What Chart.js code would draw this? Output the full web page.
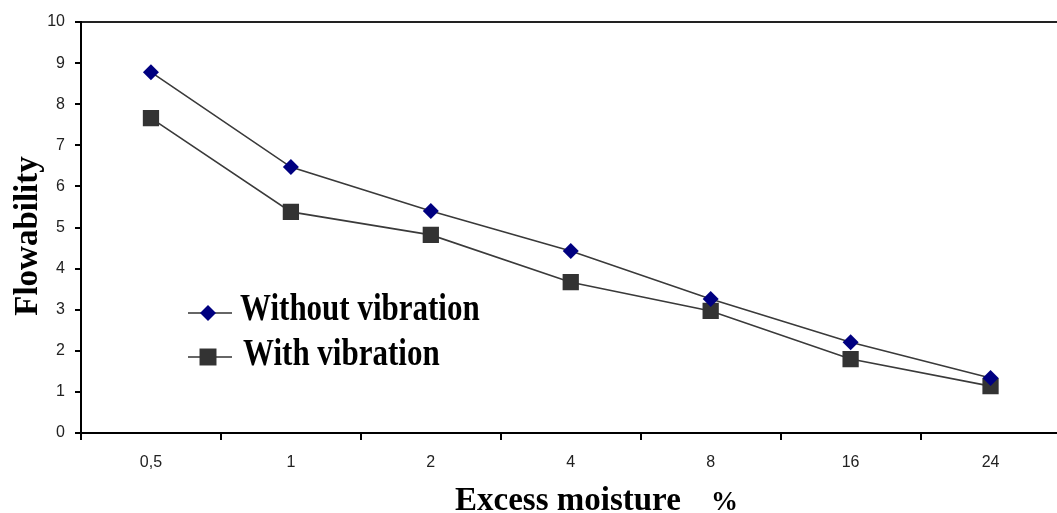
<!DOCTYPE html>
<html>
<head>
<meta charset="utf-8">
<script src="https://cdn.jsdelivr.net/npm/chart.js@4.4.1/dist/chart.umd.min.js"></script>
<style>
  html, body { margin: 0; padding: 0; background: #fff; overflow: hidden; }
  #wrap { position: relative; width: 1072px; height: 513px; }
</style>
</head>
<body>
<div id="wrap"><canvas id="mainChart" width="1072" height="513"></canvas></div>
<script>
// ======================================================
// DATA
// ======================================================
const moistureLabels = ['0,5', '1', '2', '4', '8', '16', '24'];
const withoutVibration = [8.78, 6.47, 5.40, 4.43, 3.26, 2.21, 1.34];
const withVibration = [7.66, 5.38, 4.82, 3.67, 2.97, 1.80, 1.14];
const legendNames = ['Without vibration', 'With vibration'];
const yTitle = 'Flowability';
const xTitle = 'Excess moisture';
const xUnit = '%';

const serif = '"Liberation Serif", "Times New Roman", serif';
const sans = '"Liberation Sans", Arial, sans-serif';

// titles + in-plot legend, drawn on top of the chart
const decorPlugin = {
  id: 'decor',
  afterDraw(chart) {
    const ctx = chart.ctx;
    ctx.save();
    ctx.fillStyle = '#000';

    // y title
    ctx.font = 'bold 33px ' + serif;
    ctx.textAlign = 'center';
    ctx.textBaseline = 'middle';
    ctx.save();
    ctx.translate(28, 236);
    ctx.rotate(-Math.PI / 2);
    ctx.fillText(yTitle, 0, 0);
    ctx.restore();

    // x title
    ctx.textAlign = 'left';
    ctx.textBaseline = 'alphabetic';
    ctx.fillText(xTitle, 455, 510);
    ctx.font = 'bold 27px ' + serif;
    ctx.fillText(xUnit, 711, 510);

    // legend
    const items = [
      { y: 313, base: 320, tx: 240, style: 'rectRot', radius: 8, color: '#000080' },
      { y: 357, base: 365, tx: 243, style: 'rect', radius: 12, color: '#333333' }
    ];
    items.forEach((it, i) => {
      ctx.strokeStyle = '#333';
      ctx.lineWidth = 1.6;
      ctx.beginPath();
      ctx.moveTo(188, it.y);
      ctx.lineTo(232, it.y);
      ctx.stroke();
      ctx.fillStyle = it.color;
      Chart.helpers.drawPoint(ctx, { pointStyle: it.style, radius: it.radius, borderWidth: 0 }, 208, it.y);
      ctx.fillStyle = '#000';
      ctx.font = 'bold 31px ' + serif;
      ctx.save();
      ctx.translate(it.tx, it.base);
      ctx.scale(1, 1.2);
      ctx.fillText(legendNames[i], 0, 0);
      ctx.restore();
    });
    ctx.restore();
  }
};

const ctx = document.getElementById('mainChart').getContext('2d');
new Chart(ctx, {
  type: 'line',
  data: {
    labels: moistureLabels,
    datasets: [
      {
        label: legendNames[0],
        data: withoutVibration,
        borderColor: '#3a3a3a',
        borderWidth: 1.6,
        pointStyle: 'rectRot',
        pointRadius: 8,
        pointBackgroundColor: '#000080',
        pointBorderWidth: 0,
        tension: 0
      },
      {
        label: legendNames[1],
        data: withVibration,
        borderColor: '#3a3a3a',
        borderWidth: 1.6,
        pointStyle: 'rect',
        pointRadius: 11.5,
        pointBackgroundColor: '#333333',
        pointBorderWidth: 0,
        tension: 0
      }
    ]
  },
  options: {
    responsive: false,
    animation: false,
    layout: { padding: { top: 22, right: 4, bottom: 0, left: 0 } },
    plugins: {
      legend: { display: false },
      tooltip: { enabled: false }
    },
    scales: {
      x: {
        offset: true,
        afterFit(scale) { scale.height = 80; },
        border: { display: true, color: '#000', width: 2 },
        grid: { offset: true, drawOnChartArea: false, drawTicks: true, tickLength: 7, color: '#000', lineWidth: 2 },
        ticks: { color: '#222', font: { family: sans, size: 16 }, padding: 13 }
      },
      y: {
        min: 0,
        max: 10,
        afterFit(scale) { scale.width = 81; },
        border: { display: true, color: '#000', width: 2 },
        grid: {
          drawTicks: true,
          tickLength: 6,
          tickColor: '#000',
          lineWidth: 2,
          color: c => (c.tick && c.tick.value === 10 ? '#222' : 'rgba(0,0,0,0)')
        },
        ticks: { stepSize: 1, color: '#222', font: { family: sans, size: 16 }, padding: 10 }
      }
    }
  },
  plugins: [decorPlugin]
});
</script>
</body>
</html>
